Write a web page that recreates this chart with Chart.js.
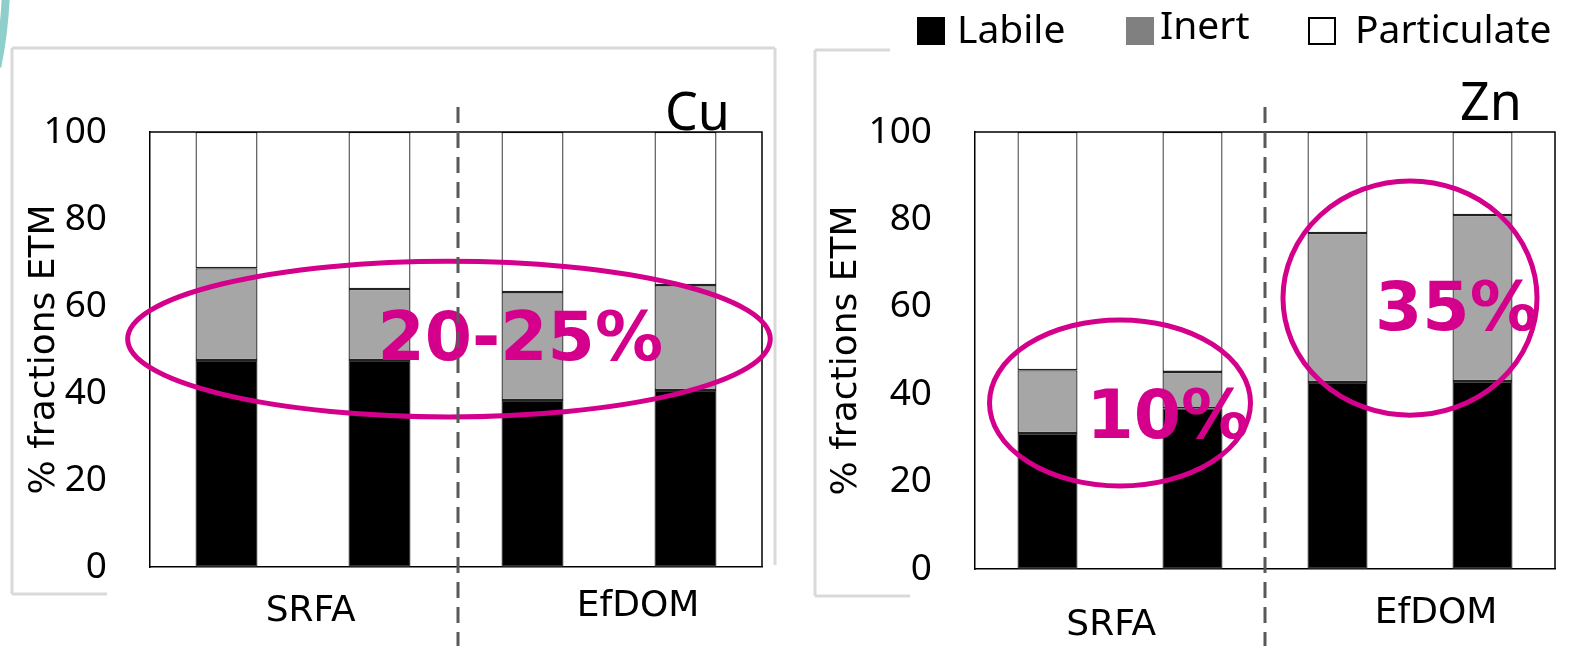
<!DOCTYPE html>
<html>
<head>
<meta charset="utf-8">
<script src="https://cdn.jsdelivr.net/npm/chart.js@4.4.1/dist/chart.umd.min.js"></script>
<style>
  html, body { margin: 0; padding: 0; background: #fff; }
  body { width: 1569px; height: 646px; position: relative; overflow: hidden; }
  canvas { position: absolute; top: 0; }
  #cuChart { left: 0; }
  #znChart { left: 790px; }
  .legBox { position: absolute; width: 28px; height: 28px; box-sizing: border-box; }
  .legText { position: absolute; font-family: 'Noto Sans', sans-serif;
             font-size: 39px; line-height: 39px; color: #000; white-space: nowrap; }
</style>
</head>
<body>
<canvas id="cuChart" width="790" height="646"></canvas>
<canvas id="znChart" width="779" height="646"></canvas>
<div id="legend"></div>
<script>
// data (% of total metal)
const categories = ['SRFA a', 'SRFA b', 'EfDOM a', 'EfDOM b'];
const groupNames = ['SRFA', 'EfDOM'];
const seriesNames = ['Labile', 'Inert', 'Particulate'];
const yTicks = [0, 20, 40, 60, 80, 100];

const cuLabile      = [47.6, 47.6, 38.4, 40.7];
const cuInert       = [21.1, 16.3, 24.8, 24.1];
const cuParticulate = [31.3, 36.1, 36.8, 35.2];

const znLabile      = [31.1, 36.8, 42.8, 43.0];
const znInert       = [14.4,  8.3, 34.1, 38.0];
const znParticulate = [54.5, 54.9, 23.1, 19.0];

// styles
const barFill = ['#000000', '#a6a6a6', '#ffffff'];
const legendFill = ['#000000', '#808080', '#ffffff'];
const magenta = '#d4008c';
const noto = "'Noto Sans', sans-serif";
const dejavu = "'DejaVu Sans', sans-serif";

// html legend, shared by both panels
const legendPos = [
  { box: 917, text: 957, textTop: 8 },
  { box: 1126, text: 1160, textTop: 4 },
  { box: 1308, text: 1355, textTop: 8 }
];
const legendEl = document.getElementById('legend');
seriesNames.forEach((name, i) => {
  const b = document.createElement('div');
  b.className = 'legBox';
  b.style.left = legendPos[i].box + 'px';
  b.style.top = '17px';
  b.style.background = legendFill[i];
  if (i === 2) b.style.border = '2px solid #000';
  legendEl.append(b);
  const t = document.createElement('div');
  t.className = 'legText';
  t.style.left = legendPos[i].text + 'px';
  t.style.top = legendPos[i].textTop + 'px';
  t.textContent = name;
  legendEl.append(t);
});

// extra drawing: plot frame, panel name, group labels, rings, separator
function decoPlugin(cfg) {
  return {
    id: 'deco',
    beforeDraw(chart) {
      const ctx = chart.ctx;
      ctx.save();
      ctx.strokeStyle = '#d9d9d9';
      ctx.lineWidth = 3;
      cfg.frame.forEach(s => {
        ctx.beginPath(); ctx.moveTo(s[0], s[1]); ctx.lineTo(s[2], s[3]); ctx.stroke();
      });
      if (cfg.arc) {
        ctx.strokeStyle = '#8ecfcb';
        ctx.lineWidth = 8;
        ctx.beginPath(); ctx.arc(-432, -20, 438, -0.1, 0.2); ctx.stroke();
      }
      ctx.restore();
    },
    afterDraw(chart) {
      const { ctx, chartArea: a, scales: { x, y } } = chart;
      ctx.save();
      // top + right edges of the plot box
      ctx.strokeStyle = '#000';
      ctx.lineWidth = 1.5;
      ctx.beginPath();
      ctx.moveTo(a.left, a.top); ctx.lineTo(a.right, a.top); ctx.lineTo(a.right, a.bottom);
      ctx.stroke();

      // panel name
      ctx.fillStyle = '#000';
      ctx.font = '52px ' + noto;
      ctx.textAlign = 'right';
      ctx.textBaseline = 'alphabetic';
      ctx.fillText(cfg.name, a.right + cfg.nameDx, a.top + cfg.nameDy);

      // group labels under the axis
      ctx.font = '36px ' + dejavu;
      ctx.textAlign = 'center';
      ctx.textBaseline = 'middle';
      groupNames.forEach((g, i) => {
        ctx.fillText(g, x.getPixelForValue(cfg.groupAt[i]), a.bottom + cfg.groupDy[i]);
      });

      // magenta rings with their labels
      cfg.rings.forEach(r => {
        const cx = x.getPixelForValue(r.cx), cy = y.getPixelForValue(r.cy);
        const rx = x.getPixelForValue(r.cx + r.rx) - cx;
        const ry = cy - y.getPixelForValue(r.cy + r.ry);
        ctx.strokeStyle = magenta;
        ctx.lineWidth = 5;
        ctx.beginPath(); ctx.ellipse(cx, cy, rx, ry, 0, 0, 2 * Math.PI); ctx.stroke();
        ctx.fillStyle = magenta;
        ctx.font = 'bold 68px ' + dejavu;
        ctx.fillText(r.text, x.getPixelForValue(r.tx), y.getPixelForValue(r.ty));
      });

      // dashed separator between SRFA and EfDOM
      const sx = x.getPixelForValue(1.5) + cfg.sepDx;
      ctx.strokeStyle = '#595959';
      ctx.lineWidth = 3;
      ctx.setLineDash([16, 9]);
      ctx.beginPath(); ctx.moveTo(sx, 107); ctx.lineTo(sx, chart.height); ctx.stroke();
      ctx.restore();
    }
  };
}

function makePanel(id, labile, inert, particulate, cfg) {
  const series = [labile, inert, particulate];
  return new Chart(document.getElementById(id), {
    type: 'bar',
    data: {
      labels: categories,
      datasets: series.map((vals, i) => ({
        label: seriesNames[i],
        data: vals,
        backgroundColor: barFill[i],
        borderColor: '#222',
        borderWidth: 1.3,
        borderSkipped: false,
        barPercentage: cfg.barPct,
        categoryPercentage: 1
      }))
    },
    options: {
      responsive: false,
      animation: false,
      events: [],
      layout: { padding: { left: 0, top: 132, right: cfg.padRight, bottom: 0 } },
      plugins: { legend: { display: false }, tooltip: { enabled: false } },
      scales: {
        x: {
          stacked: true,
          grid: { display: false, drawTicks: false },
          border: { color: '#000', width: 1.5 },
          ticks: { display: false },
          afterFit: s => { s.height = cfg.xHeight; }
        },
        y: {
          stacked: true,
          min: 0,
          max: 100,
          grid: { display: false, drawTicks: false },
          border: { color: '#000', width: 1.5 },
          afterBuildTicks: s => { s.ticks = yTicks.map(v => ({ value: v })); },
          ticks: { padding: 43, color: '#000', font: { family: noto, size: 37 } },
          title: {
            display: true,
            text: '% fractions ETM',
            color: '#000',
            font: { family: dejavu, size: 36 },
            padding: { top: cfg.titlePad, bottom: 0 }
          },
          afterFit: s => { s.width = cfg.yWidth; }
        }
      }
    },
    plugins: [decoPlugin(cfg)]
  });
}

makePanel('cuChart', cuLabile, cuInert, cuParticulate, {
  name: 'Cu', nameDx: -32, nameDy: -2, sepDx: 2,
  barPct: 0.405, padRight: 28, yWidth: 150, xHeight: 79, titlePad: 23,
  groupAt: [0.55, 2.69], groupDy: [45, 40],
  frame: [[12, 48, 775, 48], [12, 48, 12, 594], [775, 48, 775, 565], [12, 594, 107, 594]],
  arc: true,
  rings: [{ cx: 1.454, cy: 52.4, rx: 2.1, ry: 17.9, text: '20-25%', tx: 1.92, ty: 51.7 }]
});

makePanel('znChart', znLabile, znInert, znParticulate, {
  name: 'Zn', nameDx: -33, nameDy: -12, sepDx: 0,
  barPct: 0.414, padRight: 14, yWidth: 185, xHeight: 77, titlePad: 35,
  groupAt: [0.44, 2.68], groupDy: [57, 45],
  frame: [[25, 50, 100, 50], [25, 50, 25, 596], [25, 596, 120, 596]],
  arc: false,
  rings: [
    { cx: 0.5, cy: 38, rx: 0.9, ry: 19, text: '10%', tx: 0.83, ty: 34.1 },
    { cx: 2.5, cy: 62, rx: 0.876, ry: 26.8, text: '35%', tx: 2.82, ty: 58.8 }
  ]
});
</script>
</body>
</html>
